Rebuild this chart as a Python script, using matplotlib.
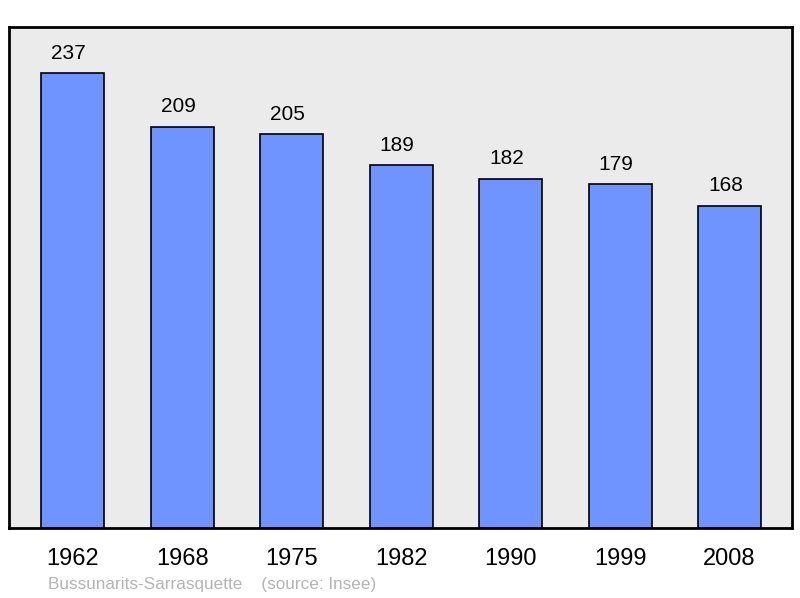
import matplotlib
matplotlib.use("Agg")
import matplotlib.pyplot as plt

years = ["1962", "1968", "1975", "1982", "1990", "1999", "2008"]
population = [237, 209, 205, 189, 182, 179, 168]

plt.rcParams['font.family'] = ['Liberation Sans', 'DejaVu Sans']

fig = plt.figure(figsize=(8, 5.98), dpi=100)
ax = fig.add_axes([9 / 800, 70 / 598, 783 / 800, 501 / 598])
ax.set_facecolor('#ebebeb')

x = range(len(years))
ax.bar(x, population, width=0.575, color='#7094ff', edgecolor='black', linewidth=1.2, zorder=2)
for xi, v in zip(x, population):
    ax.annotate(str(v), (xi, v), xytext=(-3, 7.5), textcoords='offset points',
                ha='center', va='bottom', fontsize=15)

ax.set_xlim(-0.584, 6.571)
ax.set_ylim(0, 261)
ax.set_yticks([])
ax.set_xticks(list(x))
ax.set_xticklabels(years, fontsize=17)
ax.tick_params(axis='x', length=0, pad=14.5)
for s in ax.spines.values():
    s.set_linewidth(2)

fig.text(48 / 800, 1 - 585 / 598, "Bussunarits-Sarrasquette    (source: Insee)",
         fontsize=12.3, color='#b4b4b4', va='center', ha='left')

fig.savefig("out.png", dpi=100)
